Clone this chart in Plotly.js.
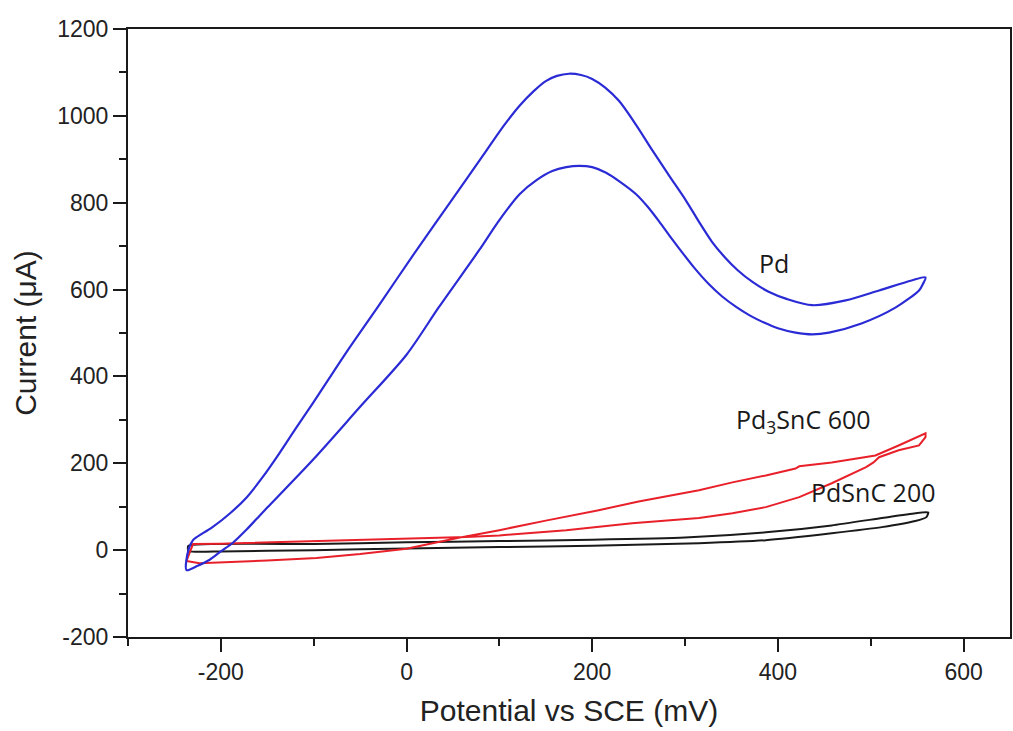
<!DOCTYPE html>
<html>
<head>
<meta charset="utf-8">
<script src="https://cdn.plot.ly/plotly-3.0.1.min.js"></script>
<style>html,body{margin:0;padding:0;background:#fff;}#chart{width:1013px;height:731px;}</style>
</head>
<body>
<div id="chart"></div>
<script>
// Pd (blue) cyclic voltammogram loop
var pdX = [-237,-235,-230,-226,-209,-190,-172,-155,-137,-120,-101,-65,-29,6,50,86,105,122,137,150,162,175,188,200,214,229,247,265,283,301,315,329,343,357,373,390,410,437,473,509,544,559,556,552,527,490,455,437,419,400,385,370,355,340,325,310,296,284,272,260,247,230,215,200,186,172,157,140,122,100,78,35,0,-50,-100,-150,-158,-172,-187,-200,-212,-225,-237];
var pdY = [-46,0,23,30,53,85,122,168,223,278,338,455,566,676,810,920,978,1024,1057,1080,1092,1097,1094,1085,1065,1034,980,920,862,805,756,710,674,644,617,595,578,564,575,598,621,628,612,598,559,522,501,497,501,511,524,540,560,584,614,650,688,722,757,790,820,848,869,882,885,882,873,852,820,760,690,560,450,330,210,98,80,48,17,-3,-22,-36,-46];

// Pd3SnC 600 (red) loop
var pd3X = [-237,-223,-150,-97,-50,0,55,100,150,207,250,315,351,387,419,423,458,495,505,530,559,559,552,530,509,503,495,458,423,387,351,315,243,172,100,64,0,-97,-200,-230,-237];
var pd3Y = [-25,-30,-24,-18,-9,3,28,46,68,92,112,138,156,172,188,193,202,214,218,241,269,260,241,230,214,202,191,154,122,99,85,74,62,46,34,30,26,20,15,14,-25];

// PdSnC 200 (black) loop
var pdsX = [-235,-100,0,100,200,300,387,458,512,548,562,560,548,512,458,387,315,200,100,0,-100,-200,-235,-235];
var pdsY = [10,14,18,21,24,29,41,57,74,85,87,76,67,53,39,23,16,10,7,4,0,-3,-2,10];

// Tick values
var xTicks = [-200,0,200,400,600];
var yTicks = [-200,0,200,400,600,800,1000,1200];

// Curve labels
var labelText = ['Pd','Pd<sub>3</sub>SnC 600','PdSnC 200'];
var labelX = [396,428,503];
var labelY = [662,299,133];

var traces = [
  {x: pdsX, y: pdsY, mode:'lines', line:{color:'#1a1a1a', width:2, shape:'spline', smoothing:0.5}, name:'PdSnC 200'},
  {x: pd3X, y: pd3Y, mode:'lines', line:{color:'#e8202a', width:2}, name:'Pd3SnC 600'},
  {x: pdX, y: pdY, mode:'lines', line:{color:'#2b2bd6', width:2.2, shape:'spline', smoothing:0.8}, name:'Pd'}
];

var annotations = labelText.map(function(t,i){
  return {x: labelX[i], y: labelY[i], xref:'x', yref:'y', text:t, showarrow:false,
    xanchor:'center', yanchor:'middle', font:{family:'Open Sans, Noto Sans, sans-serif', size:25, color:'#1a1a1a'}};
});

var axisCommon = {
  showline:true, linecolor:'#1a1a1a', linewidth:2, mirror:true,
  ticks:'outside', ticklen:13, tickwidth:2, tickcolor:'#1a1a1a',
  showgrid:false, zeroline:false,
  tickfont:{family:'Liberation Sans, Arial, sans-serif', size:23, color:'#222'}
};

var layout = {
  width:1013, height:731,
  margin:{l:128, r:3, t:29, b:94},
  paper_bgcolor:'#fff', plot_bgcolor:'#fff',
  showlegend:false,
  xaxis: Object.assign({}, axisCommon, {
    range:[-300,650], tickvals:xTicks, ticktext:xTicks.map(String),
    minor:{ticks:'outside', ticklen:7, tickwidth:2, tickcolor:'#1a1a1a', dtick:100, tick0:0},
    title:{text:'Potential vs SCE (mV)', font:{family:'Liberation Sans, Arial, sans-serif', size:30, color:'#222'}, standoff:16}
  }),
  yaxis: Object.assign({}, axisCommon, {
    range:[-200,1200], tickvals:yTicks, ticktext:yTicks.map(String),
    minor:{ticks:'outside', ticklen:7, tickwidth:2, tickcolor:'#1a1a1a', dtick:100, tick0:0},
    title:{text:'Current (μA)', font:{family:'Liberation Sans, Arial, sans-serif', size:30, color:'#222'}, standoff:12}
  }),
  annotations: annotations
};

Plotly.newPlot('chart', traces, layout, {staticPlot:true, displayModeBar:false});
</script>
</body>
</html>
